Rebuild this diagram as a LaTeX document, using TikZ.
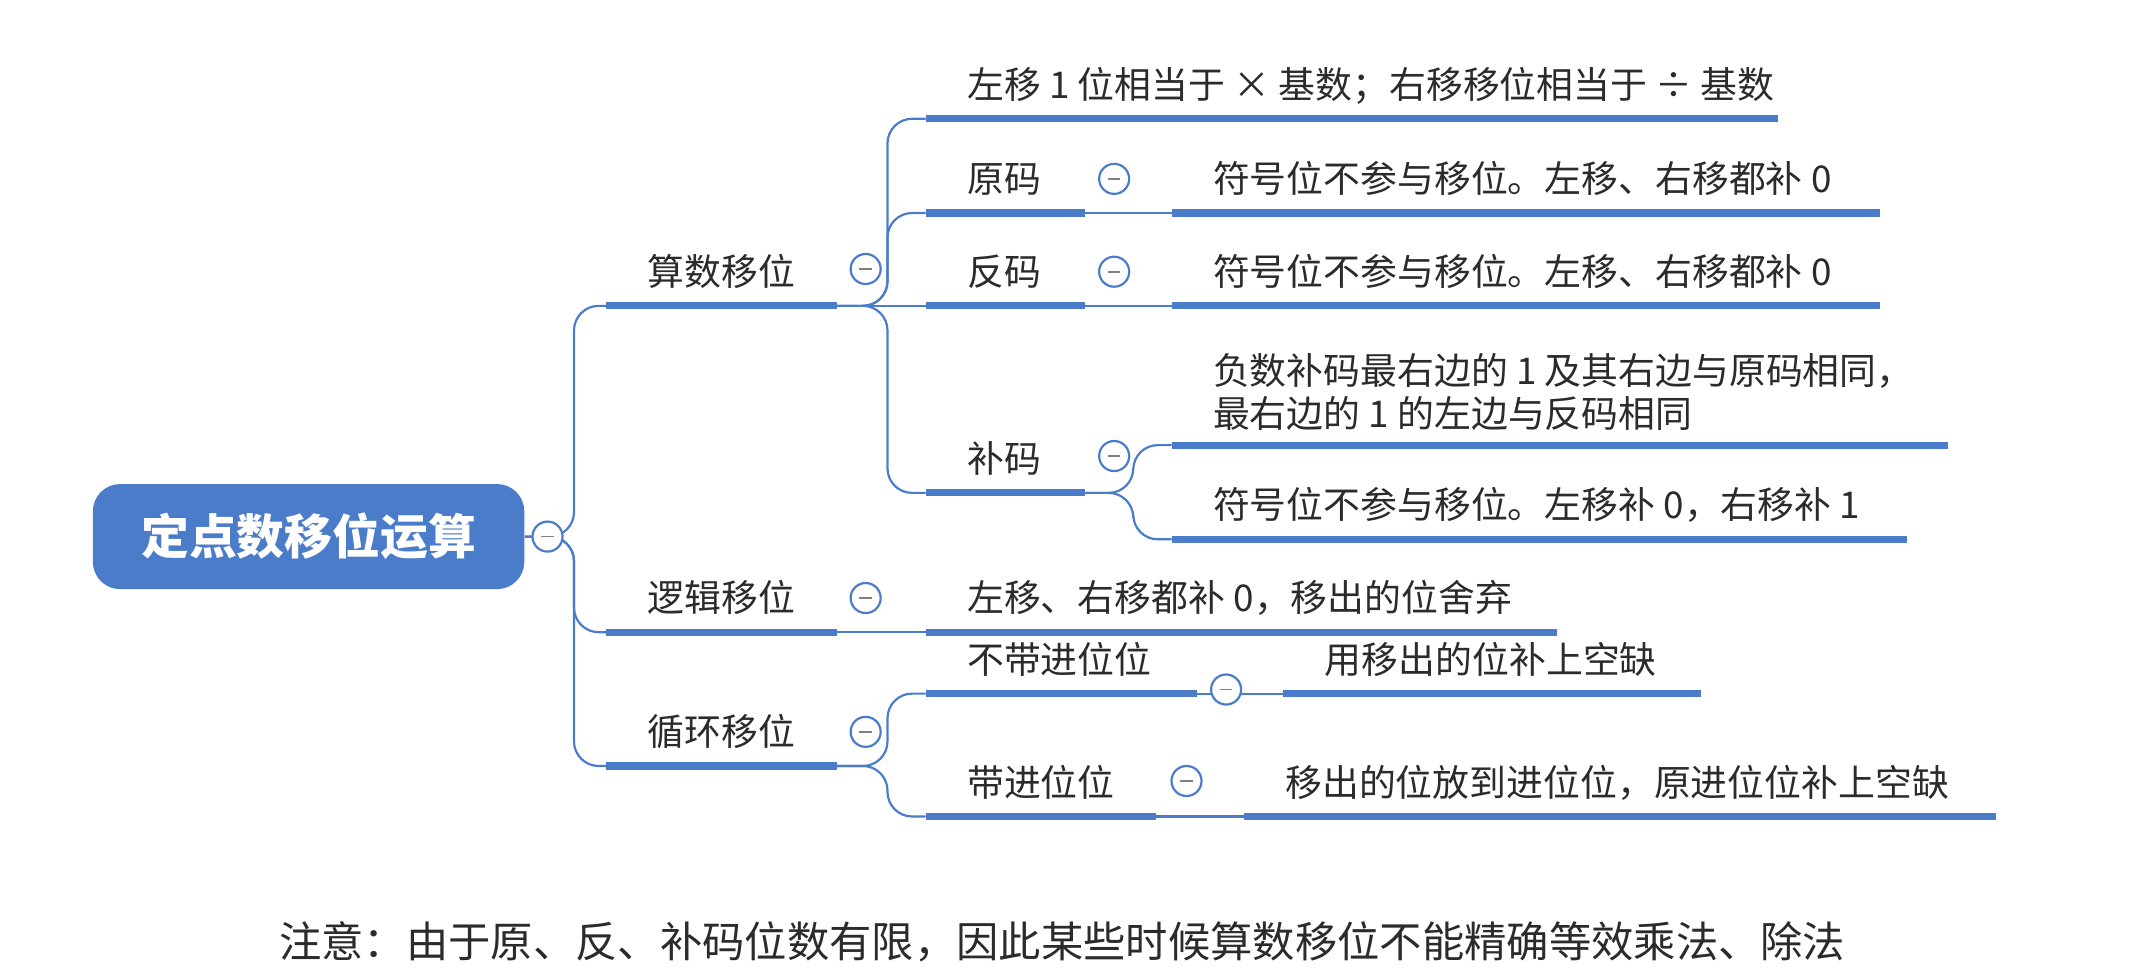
\documentclass[tikz,border=0pt]{standalone}
\usepackage{fontspec}
\setmainfont{Noto Sans CJK SC}
\usetikzlibrary{shapes.geometric, arrows}
\definecolor{mapblue}{HTML}{4A7CC9}
\definecolor{ink}{HTML}{2B2B2B}
\tikzstyle{bar} = [line width=2.6pt, mapblue]
\tikzstyle{link} = [line width=0.8pt, mapblue, rounded corners=9pt]
\tikzstyle{label} = [anchor=base west, inner sep=0, text=ink, font=\fontsize{13.5}{16}\selectfont]
\tikzstyle{fold} = [circle, draw=mapblue, line width=0.8pt, fill=white, minimum size=11pt, inner sep=0,
  path picture={\draw[gray, line width=0.6pt] ([xshift=-2.3pt]path picture bounding box.center) -- ([xshift=2.3pt]path picture bounding box.center);}]
\tikzstyle{central} = [rectangle, rounded corners=10pt, fill=mapblue, minimum width=158pt, minimum height=38.5pt, text=white, font=\fontsize{17.5}{20}\selectfont\bfseries]
% underline + text of one topic
\newcommand{\topic}[5]{%
  \coordinate (#1-l) at (#2,#4); \coordinate (#1-r) at (#3,#4);
  \draw [bar] (#1-l) -- (#1-r);
  \node (#1) [label] at (#2+30,#4-15) {#5};}
\newcommand{\fold}[3]{\node (#1-f) [fold] at (#2,#3) {};}

\begin{document}
\begin{tikzpicture}[x=0.5pt, y=-0.5pt]
	\useasboundingbox (0,0) rectangle (1560,717);
	\node (root) [central] at (226,393) {定点数移位运算};
	% first level
	\topic{arith}{444}{613}{224}{算数移位}
	\topic{logic}{444}{613}{463}{逻辑移位}
	\topic{cycle}{444}{613}{561}{循环移位}
	% arithmetic shift
	\topic{rule}{678}{1302}{87}{左移 1 位相当于 × 基数；右移移位相当于 ÷ 基数}
	\topic{yuan}{678}{795}{156}{原码}
	\topic{yuanA}{858}{1377}{156}{符号位不参与移位。左移、右移都补 0}
	\topic{fan}{678}{795}{224}{反码}
	\topic{fanA}{858}{1377}{224}{符号位不参与移位。左移、右移都补 0}
	\topic{bu}{678}{795}{361}{补码}
	\coordinate (buA-l) at (858,326); \coordinate (buA-r) at (1427,326);
	\draw [bar] (buA-l) -- (buA-r);
	\node (buA) [label, anchor=south west, align=left] at (888,316) {负数补码最右边的 1 及其右边与原码相同，\\最右边的 1 的左边与反码相同};
	\topic{buB}{858}{1397}{395}{符号位不参与移位。左移补 0，右移补 1}
	% logic shift
	\topic{logicA}{678}{1140}{463}{左移、右移都补 0，移出的位舍弃}
	% cyclic shift
	\topic{nocarry}{678}{877}{508}{不带进位位}
	\topic{nocarryA}{940}{1246}{508}{用移出的位补上空缺}
	\topic{carry}{678}{847}{598}{带进位位}
	\topic{carryA}{911}{1462}{598}{移出的位放到进位位，原进位位补上空缺}

	\draw [link] (root.east) -- ++(36,0) |- (arith-l);
	\draw [link] (root.east) -- ++(36,0) |- (logic-l);
	\draw [link] (root.east) -- ++(36,0) |- (cycle-l);
	\draw [link] (arith-r) -- ++(37,0) |- (rule-l);
	\draw [link] (arith-r) -- ++(37,0) |- (yuan-l);
	\draw [link] (arith-r) -- (fan-l);
	\draw [link] (arith-r) -- ++(37,0) |- (bu-l);
	\draw [link] (yuan-r) -- (yuanA-l);
	\draw [link] (fan-r) -- (fanA-l);
	\draw [link] (bu-r) -- ++(35,0) |- (buA-l);
	\draw [link] (bu-r) -- ++(35,0) |- (buB-l);
	\draw [link] (logic-r) -- (logicA-l);
	\draw [link] (cycle-r) -- ++(37,0) |- (nocarry-l);
	\draw [link] (cycle-r) -- ++(37,0) |- (carry-l);
	\draw [link] (nocarry-r) -- (nocarryA-l);
	\draw [link] (carry-r) -- (carryA-l);

	\fold{root}{401}{393}
	\fold{arith}{634}{197}
	\fold{logic}{634}{438}
	\fold{cycle}{634}{536}
	\fold{yuan}{816}{131}
	\fold{fan}{816}{199}
	\fold{bu}{816}{334}
	\fold{nocarry}{898}{505}
	\fold{carry}{869}{572}

	\node (note) [text=ink, font=\fontsize{15.5}{18}\selectfont] at (778,690) {注意：由于原、反、补码位数有限，因此某些时候算数移位不能精确等效乘法、除法};
\end{tikzpicture}
\end{document}
